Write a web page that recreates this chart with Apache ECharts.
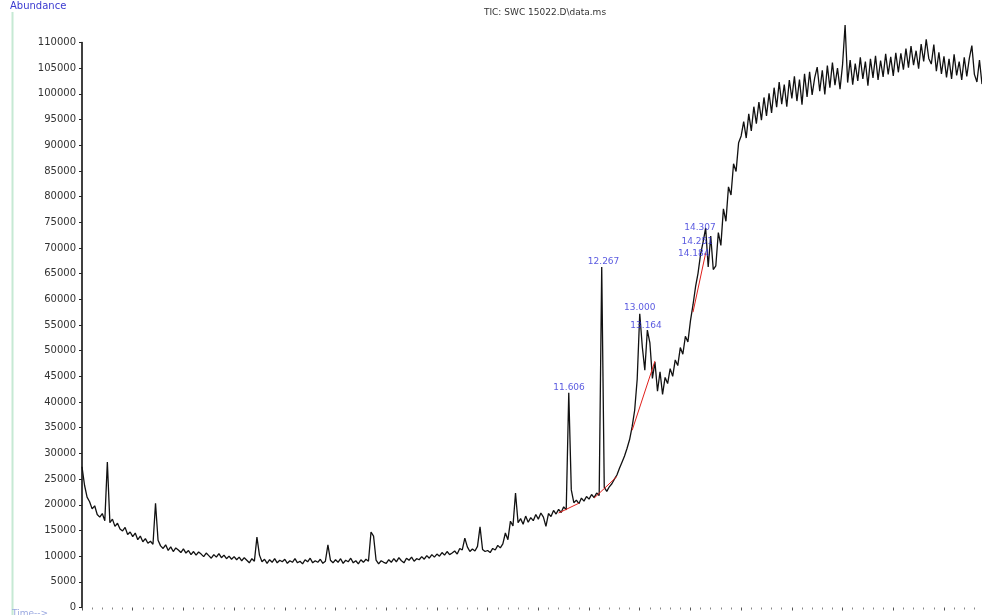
<!DOCTYPE html>
<html>
<head>
<meta charset="utf-8">
<title>TIC: SWC 15022.D\data.ms</title>
<script src="https://cdn.jsdelivr.net/npm/echarts@6/dist/echarts.min.js"></script>
<style>
  html, body { margin: 0; padding: 0; background: #fff; }
  #chart { width: 982px; height: 615px; }
</style>
</head>
<body>
<div id="chart"></div>
<script>
// 第一个扫描点的保留时间和扫描间隔 (min).
const startTime = 2.0
const timeStep = 0.05

// 每个扫描点的丰度, 每行一分钟.
const abundance = [
  // 2.00
  27400, 23800, 21500, 20600, 19200, 19800, 18100, 17600, 18300, 16900, 28300, 16500, 17200, 15800, 16400, 15300, 14900, 15600, 14200, 14700,
  // 3.00
  13800, 14500, 13200, 13900, 12800, 13400, 12500, 12900, 12300, 20300, 13100, 12000, 11500, 12200, 11100, 11800, 10900, 11600, 11200, 10700,
  // 4.00
  11400, 10600, 11100, 10300, 10900, 10200, 10800, 10400, 9900, 10600, 10100, 9600, 10300, 9800, 10500, 9700, 10200, 9500, 10000, 9400,
  // 5.00
  9900, 9300, 9800, 9100, 9700, 9200, 8700, 9500, 9000, 13700, 10200, 8900, 9400, 8600, 9300, 8800, 9500, 8700, 9200, 8900,
  // 6.00
  9400, 8600, 9100, 8800, 9500, 8700, 9000, 8500, 9300, 8900, 9600, 8700, 9100, 8800, 9400, 8600, 9000, 12200, 9200, 8700,
  // 7.00
  9300, 8800, 9500, 8600, 9200, 8900, 9600, 8700, 9100, 8500, 9300, 8800, 9400, 9000, 14700, 13900, 9200, 8500, 9100, 8800,
  // 8.00
  8600, 9300, 8800, 9500, 8900, 9700, 9100, 8700, 9600, 9200, 9800, 9000, 9500, 9300, 9900, 9400, 10100, 9600, 10300, 9800,
  // 9.00
  10400, 10000, 10700, 10200, 10900, 10300, 10600, 11000, 10400, 11500, 11200, 13500, 11800, 10900, 11400, 11000, 11900, 15700, 11300, 10900,
  // 10.00
  11100, 10700, 11500, 11200, 12100, 11600, 12400, 14500, 13200, 16800, 15900, 22300, 16500, 17300, 16200, 17800, 16600, 17500, 16900, 18100,
  // 11.00
  17200, 18400, 17600, 15800, 18300, 17700, 18900, 18200, 19100, 18500, 19600, 19000, 41800, 22900, 20400, 20900, 20200, 21300, 20700, 21600,
  // 12.00
  21100, 22000, 21400, 22300, 21800, 66300, 23400, 22600, 23500, 24100, 25000, 25800, 27100, 28300, 29500, 31000, 32700, 35200, 38400, 44500,
  // 13.00
  57200, 50800, 46200, 54000, 51500, 44600, 47800, 42100, 45900, 41500, 44800, 43600, 46500, 45000, 48200, 47100, 50600, 49300, 52800, 51700,
  // 14.00
  55800, 58900, 62400, 65100, 68800, 71200, 73900, 66300, 72300, 65800, 66500, 73000, 70500, 77600, 75200, 81900, 80300, 86400, 84900, 90500,
  // 15.00
  91800, 94600, 91400, 96100, 92800, 97500, 94200, 98400, 94900, 99300, 95700, 100100, 96300, 101200, 97400, 102300, 98000, 101800, 97500, 102700,
  // 16.00
  99100, 103400, 98600, 102800, 97900, 103900, 99400, 104300, 99800, 103100, 105200, 100500, 104600, 99900, 105500, 101200, 106100, 101700, 105000, 100900,
  // 17.00
  105700, 113400, 102200, 106600, 101800, 105900, 102500, 107100, 102900, 106300, 101600, 106800, 103100, 107400, 102700, 106500, 103300, 107800, 103800, 107200,
  // 18.00
  103500, 108000, 104200, 107900, 104700, 108800, 105100, 109300, 105600, 108400, 104900, 109700, 106300, 110600, 106900, 105800, 109600, 104400, 108100, 103900,
  // 19.00
  107300, 103200, 106800, 102900, 107700, 103600, 106300, 102700, 107100, 103400, 106900, 109400, 103800, 102300, 106600, 101900,
]

// 标注的峰: 保留时间及峰高.
const peakTimes = [11.606, 12.267, 13.000, 13.164, 14.184, 14.251, 14.307]
const peakHeights = [41800, 66300, 57200, 54000, 68800, 71200, 73900]

// 积分基线 (红线), 每段两个端点 [时间, 丰度].
const baselineSegments = [
  [[11.40, 18400], [11.80, 20300]],
  [[12.10, 21300], [12.55, 25500]],
  [[12.85, 34500], [13.30, 48000]],
  [[14.05, 57500], [14.30, 69000]],
]

// 标签相对峰顶的偏移 (px).
const peakLabelShift = [[0, -5], [1, -5], [0, -6], [-2, -4], [-6, 0], [-6, 0], [-6, 0]]

const traceData = abundance.map((v, i) => [+(startTime + i * timeStep).toFixed(2), v])

const chart = echarts.init(document.getElementById('chart'))

chart.setOption({
  animation: false,
  backgroundColor: '#fff',
  textStyle: { fontFamily: 'DejaVu Sans, sans-serif' },
  grid: { left: 82, right: 0, top: 42.5, bottom: 7.5 },
  graphic: [
    {
      type: 'line',
      shape: { x1: 12.5, y1: 12, x2: 12.5, y2: 615 },
      style: { stroke: '#c6e9d4', lineWidth: 2 },
    },
    {
      type: 'text',
      left: 10,
      top: 1,
      style: { text: 'Abundance', fill: '#3a3ad0', font: '10px "DejaVu Sans"' },
    },
    {
      type: 'text',
      x: 545,
      y: 13,
      style: {
        text: 'TIC: SWC 15022.D\\data.ms',
        fill: '#333',
        font: '9px "DejaVu Sans"',
        align: 'center',
        verticalAlign: 'middle',
      },
    },
    {
      type: 'text',
      x: 12,
      y: 609,
      style: { text: 'Time-->', fill: '#9aa8e0', font: '9px "DejaVu Sans"' },
    },
  ],
  xAxis: {
    type: 'value',
    min: 2,
    max: 19.75,
    interval: 1,
    axisLine: { show: false },
    axisTick: { show: true, length: 3, lineStyle: { color: '#555' } },
    minorTick: { show: true, splitNumber: 5, length: 2, lineStyle: { color: '#888' } },
    axisLabel: { show: false },
    splitLine: { show: false },
  },
  yAxis: {
    type: 'value',
    min: 0,
    max: 110000,
    interval: 5000,
    axisLine: { show: true, lineStyle: { color: '#000', width: 1.5 } },
    axisTick: { show: true, length: 3, lineStyle: { color: '#222' } },
    axisLabel: { color: '#333', fontSize: 10, margin: 6, formatter: v => String(v) },
    splitLine: { show: false },
  },
  series: [
    {
      type: 'line',
      data: traceData,
      showSymbol: false,
      clip: false,
      lineStyle: { color: '#111', width: 1.3 },
      z: 3,
    },
    ...baselineSegments.map(seg => ({
      type: 'line',
      data: seg,
      showSymbol: false,
      lineStyle: { color: '#e0201c', width: 1 },
      z: 4,
    })),
    {
      type: 'scatter',
      symbolSize: 0,
      data: peakTimes.map((t, i) => ({
        value: [t, peakHeights[i]],
        label: { offset: peakLabelShift[i] },
      })),
      label: {
        show: true,
        position: 'inside',
        color: '#2f2fd8',
        fontSize: 9,
        formatter: p => p.value[0].toFixed(3),
      },
      z: 5,
    },
  ],
})
</script>
</body>
</html>
